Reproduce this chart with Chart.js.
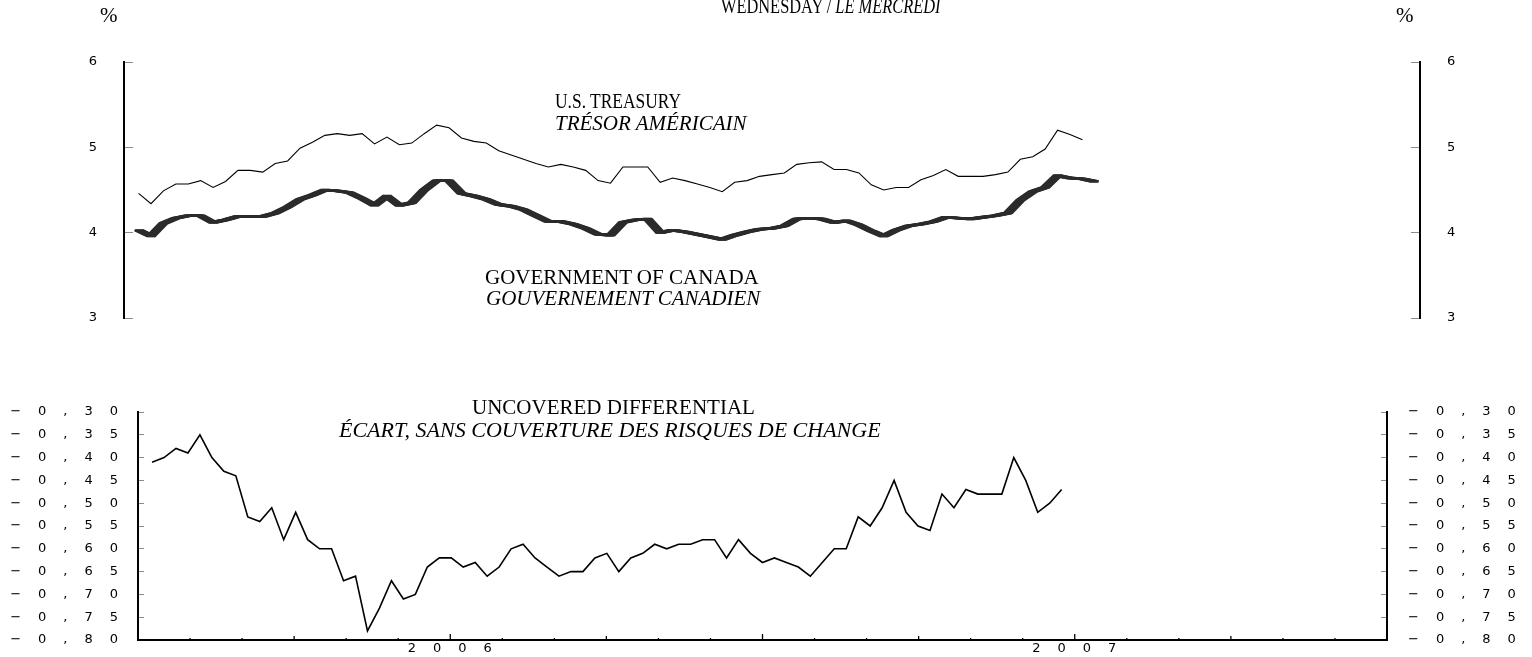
<!DOCTYPE html>
<html>
<head>
<meta charset="utf-8">
<script src="https://cdn.jsdelivr.net/npm/chart.js@4.4.1/dist/chart.umd.min.js"></script>
<style>
  html, body { margin: 0; padding: 0; background: #fff; width: 1532px; height: 657px; overflow: hidden; }
  #wrap { position: relative; width: 1532px; height: 657px; }
  canvas { position: absolute; left: 0; }
  #cTop { top: 0; }
  #cBot { top: 390px; }
  .t { position: absolute; font-family: 'Liberation Serif', 'Times New Roman', serif; color: #000;
       white-space: nowrap; line-height: 1; font-size: 21px; transform-origin: 0 0; }
  .i { font-style: italic; }
</style>
</head>
<body>
<div id="wrap">
  <canvas id="cTop" width="1532" height="340"></canvas>
  <canvas id="cBot" width="1532" height="267"></canvas>

  <div class="t" style="left:100px; top:5px;">%</div>
  <div class="t" style="left:1396px; top:5px;">%</div>
  <div class="t" style="left:721px; top:-4px; transform:scaleX(0.78);">WEDNESDAY / <span class="i">LE MERCREDI</span></div>

  <div class="t" style="left:555px; top:91px; transform:scaleX(0.83);">U.S. TREASURY</div>
  <div class="t i" style="left:555px; top:113px;">TRÉSOR AMÉRICAIN</div>

  <div class="t" style="left:485px; top:267px;">GOVERNMENT OF CANADA</div>
  <div class="t i" style="left:486px; top:288px;">GOUVERNEMENT CANADIEN</div>

  <div class="t" style="left:472px; top:397px;">UNCOVERED DIFFERENTIAL</div>
  <div class="t i" style="left:339px; top:419px; font-size:22px;">ÉCART, SANS COUVERTURE DES RISQUES DE CHANGE</div>
</div>

<script>
// ---------------- DATA ----------------
// Weekly (Wednesday) observations, July 2005 – December 2006
const START_YEAR = 2005.5225;          // decimal year of first observation
const WEEK = 7 / 365.25;               // one week in decimal years

// U.S. Treasury yield (%)
const usTreasury = [
  4.46,4.34,4.49,4.57,4.57,4.61,4.53,4.60,4.73,4.73,4.71,4.81,4.84,4.99,5.06,5.14,5.16,5.14,5.16,5.04,5.12,5.03,5.05,5.16,5.26,5.23,
  5.11,5.07,5.05,4.96,4.91,4.86,4.81,4.77,4.80,4.77,4.73,4.61,4.58,4.77,4.77,4.77,4.59,4.64,4.61,4.57,4.53,4.48,4.59,4.61,4.66,4.68,
  4.70,4.80,4.82,4.83,4.74,4.74,4.70,4.56,4.50,4.53,4.53,4.62,4.67,4.74,4.66,4.66,4.66,4.68,4.71,4.86,4.89,4.98,5.20,5.15,5.09
];

// Government of Canada yield (%)
const canada = [
  4.03,3.96,4.11,4.17,4.20,4.20,4.12,4.15,4.19,4.19,4.19,4.23,4.30,4.39,4.44,4.50,4.49,4.47,4.40,4.32,4.43,4.32,4.35,4.50,4.61,4.61,
  4.46,4.43,4.39,4.33,4.31,4.27,4.20,4.13,4.13,4.10,4.05,3.98,3.97,4.12,4.15,4.16,4.00,4.03,4.01,3.98,3.95,3.92,3.97,4.01,4.04,4.05,
  4.08,4.16,4.17,4.16,4.12,4.14,4.09,4.02,3.96,4.03,4.08,4.10,4.13,4.18,4.17,4.16,4.18,4.20,4.23,4.38,4.48,4.53,4.67,4.64,4.63,4.60
];

// Uncovered differential (percentage points)
const differential = [
  -0.41,-0.40,-0.38,-0.39,-0.35,-0.40,-0.43,-0.44,-0.53,-0.54,-0.51,-0.58,-0.52,-0.58,-0.60,-0.60,-0.67,-0.66,-0.78,-0.73,
  -0.67,-0.71,-0.70,-0.64,-0.62,-0.62,-0.64,-0.63,-0.66,-0.64,-0.60,-0.59,-0.62,-0.64,-0.66,-0.65,-0.65,-0.62,-0.61,-0.65,
  -0.62,-0.61,-0.59,-0.60,-0.59,-0.59,-0.58,-0.58,-0.62,-0.58,-0.61,-0.63,-0.62,-0.63,-0.64,-0.66,-0.63,-0.60,-0.60,-0.53,
  -0.55,-0.51,-0.45,-0.52,-0.55,-0.56,-0.48,-0.51,-0.47,-0.48,-0.48,-0.48,-0.40,-0.45,-0.52,-0.50,-0.47
];

// Tick labels
const rateTickValues = [3, 4, 5, 6];
const rateTickLabels = ['3', '4', '5', '6'];
const diffTickValues = [-0.80,-0.75,-0.70,-0.65,-0.60,-0.55,-0.50,-0.45,-0.40,-0.35,-0.30];
const diffTickLabels = ['−0,80','−0,75','−0,70','−0,65','−0,60','−0,55','−0,50','−0,45','−0,40','−0,35','−0,30'];
const yearTickValues = [2006, 2007];
const yearTickLabels = ['2006', '2007'];

// x range of both panels (decimal years)
const X_MIN = 2005.5, X_MAX = 2007.5;

// ---------------- HELPERS ----------------
const toPoints = arr => arr.map((v, i) => ({ x: START_YEAR + i * WEEK, y: v }));

const TICK_FONT = { family: 'DejaVu Sans', size: 13 };

// thick "pen" ribbon: redraw the library's own line element shifted sideways
const ribbonPlugin = {
  id: 'ribbon',
  beforeDatasetDraw(chart, args) {
    const ds = chart.data.datasets[args.index];
    if (!ds.ribbon) return;
    const ctx = chart.ctx;
    for (const dx of ds.ribbon) {
      ctx.save();
      ctx.translate(dx, 0);
      args.meta.dataset.draw(ctx, chart.chartArea);
      ctx.restore();
    }
  }
};

// letter spacing for the wide plotter-style tick labels
const spacingPlugin = {
  id: 'spacing',
  beforeDraw(chart, args, opts) { chart.ctx.letterSpacing = opts.value || '0px'; },
  afterDraw(chart) { chart.ctx.letterSpacing = '0px'; }
};

// inward month / quarter / half-year tick marks on the time axis
const timeTicksPlugin = {
  id: 'timeTicks',
  afterDraw(chart, args, opts) {
    if (!opts.enabled) return;
    const xs = chart.scales.x;
    const ctx = chart.ctx;
    const yBase = chart.chartArea.bottom;
    ctx.save();
    ctx.strokeStyle = '#000';
    ctx.lineWidth = 1.3;
    for (let k = 1; k < 24; k++) {
      const v = X_MIN + k / 12;
      const px = xs.getPixelForValue(v);
      let len = 2;
      if (k % 3 === 0) len = 4;
      if (k % 6 === 0) len = 6;
      ctx.beginPath();
      ctx.moveTo(px, yBase);
      ctx.lineTo(px, yBase - len);
      ctx.stroke();
    }
    ctx.restore();
  }
};

function yAxis(position, min, max, values, labels, width, padding, tickLen) {
  return {
    type: 'linear',
    position,
    min, max,
    afterBuildTicks: s => { s.ticks = values.map(v => ({ value: v })); },
    afterFit: s => { s.width = width; s.paddingTop = 0; s.paddingBottom = 0; },
    border: { display: true, color: '#000', width: 2 },
    grid: { drawOnChartArea: false, drawTicks: true, tickLength: -tickLen, tickColor: '#8a8a8a', tickWidth: 1 },
    ticks: {
      color: '#000',
      font: TICK_FONT,
      padding,
      callback: (v, i) => labels[i]
    }
  };
}

// ---------------- TOP PANEL ----------------
new Chart(document.getElementById('cTop'), {
  type: 'line',
  data: {
    datasets: [
      {
        label: 'U.S. Treasury',
        data: toPoints(usTreasury),
        borderColor: '#000',
        borderWidth: 1.1,
        pointRadius: 0,
        tension: 0,
        yAxisID: 'yL'
      },
      {
        label: 'Government of Canada',
        data: toPoints(canada),
        borderColor: '#2b2b2b',
        borderWidth: 2.4,
        pointRadius: 0,
        tension: 0,
        ribbon: [-4, -3, -2, -1, 1, 2, 3, 4],
        yAxisID: 'yL'
      }
    ]
  },
  options: {
    responsive: false,
    animation: false,
    events: [],
    layout: { padding: { left: 0, right: 0, top: 62, bottom: 22 } },
    plugins: { legend: { display: false }, tooltip: { enabled: false }, spacing: { value: '0px' }, timeTicks: { enabled: false } },
    scales: {
      x: { type: 'linear', min: X_MIN, max: X_MAX, display: false },
      yL: yAxis('left', 3, 6, rateTickValues, rateTickLabels, 124, 36, 9),
      yR: yAxis('right', 3, 6, rateTickValues, rateTickLabels, 112, 36, 9)
    }
  },
  plugins: [ribbonPlugin, spacingPlugin, timeTicksPlugin]
});

// ---------------- BOTTOM PANEL ----------------
new Chart(document.getElementById('cBot'), {
  type: 'line',
  data: {
    datasets: [
      {
        label: 'Uncovered differential',
        data: toPoints(differential),
        borderColor: '#000',
        borderWidth: 1.6,
        pointRadius: 0,
        tension: 0,
        yAxisID: 'yL'
      }
    ]
  },
  options: {
    responsive: false,
    animation: false,
    events: [],
    layout: { padding: { left: 0, right: 0, top: 22, bottom: 0 } },
    plugins: { legend: { display: false }, tooltip: { enabled: false }, spacing: { value: '17px' }, timeTicks: { enabled: true } },
    scales: {
      x: {
        type: 'linear', min: X_MIN, max: X_MAX, position: 'bottom',
        afterBuildTicks: s => { s.ticks = yearTickValues.map(v => ({ value: v })); },
        afterFit: s => { s.height = 17; },
        border: { display: true, color: '#000', width: 2 },
        grid: { drawOnChartArea: false, drawTicks: false },
        ticks: {
          color: '#000', font: TICK_FONT, padding: 1, labelOffset: 8,
          maxRotation: 0, autoSkip: false,
          callback: (v, i) => yearTickLabels[i]
        }
      },
      yL: yAxis('left', -0.80, -0.30, diffTickValues, diffTickLabels, 138, 9, 6),
      yR: yAxis('right', -0.80, -0.30, diffTickValues, diffTickLabels, 145, 27, 6)
    }
  },
  plugins: [ribbonPlugin, spacingPlugin, timeTicksPlugin]
});
</script>
</body>
</html>
